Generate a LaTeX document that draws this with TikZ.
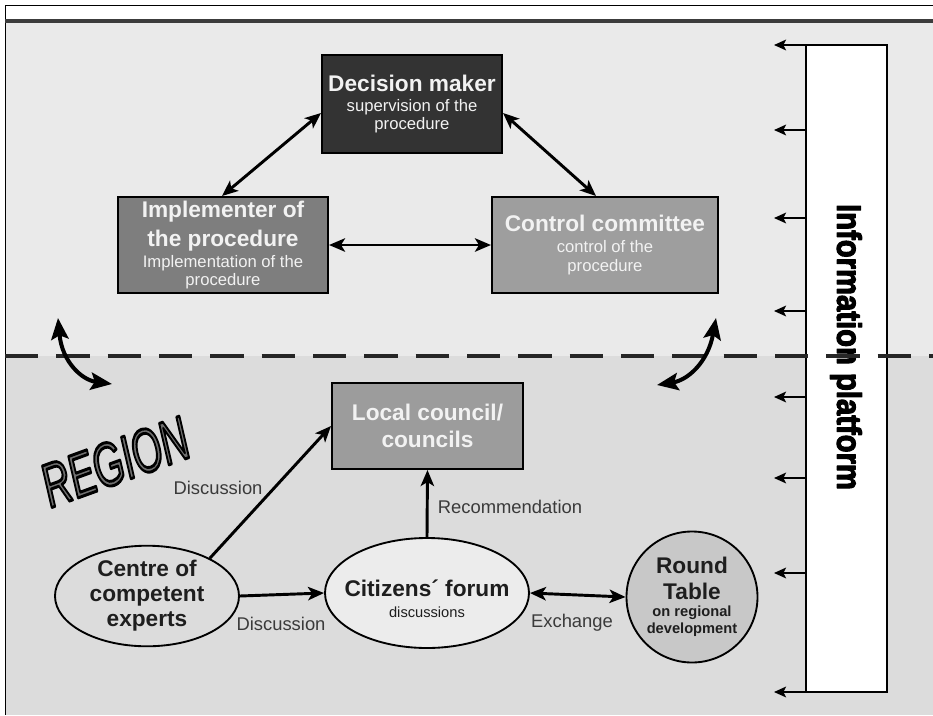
\documentclass[tikz,border=0pt]{standalone}
\usepackage{fontspec}
\setmainfont{Liberation Sans}
\usetikzlibrary{arrows.meta,shapes.geometric,calc}

\definecolor{upperbg}{HTML}{EAEAEA}
\definecolor{lowerbg}{HTML}{DCDCDC}
\definecolor{rulegray}{HTML}{3C3C3C}
\definecolor{dmfill}{HTML}{333333}
\definecolor{implfill}{HTML}{7E7E7E}
\definecolor{ctlfill}{HTML}{9E9E9E}
\definecolor{lcfill}{HTML}{9C9C9C}
\definecolor{expfill}{HTML}{DCDCDC}
\definecolor{citfill}{HTML}{ECECEC}
\definecolor{rtfill}{HTML}{C8C8C8}
\definecolor{ink}{HTML}{1E1E1E}
\definecolor{labelink}{HTML}{3A3A3A}
\definecolor{paleink}{HTML}{F2F2F2}
\definecolor{regionfill}{HTML}{707070}

% font sizes used in the chart
\newcommand{\hdfont}{\fontsize{17}{20}\selectfont\bfseries}
\newcommand{\sbfont}{\fontsize{12.5}{14}\selectfont}
\newcommand{\tinybold}{\fontsize{11}{12.75}\selectfont\bfseries}
\newcommand{\lblfont}{\fontsize{13.8}{16}\selectfont}

% outlined lettering: fill with the current colour, stroke in black
\makeatletter
\newcommand{\strokedtext}[2]{\pgfsys@invoke{0 0 0 RG #1 w 1 j 2 Tr}#2\pgfsys@invoke{0 Tr}}
\makeatother

\tikzset{
  bigtip/.tip={Stealth[length=12pt,width=10pt,inset=3pt]},
  smalltip/.tip={Stealth[length=9pt,width=8pt,inset=2pt]},
  swingtip/.tip={Stealth[length=16pt,width=13pt,inset=3pt]},
  box/.style={rectangle, draw=black, line width=1.5pt, align=center,
    inner sep=0pt, text=paleink},
  oval/.style={ellipse, draw=black, line width=1.4pt, align=center,
    inner sep=0pt, text=ink},
  flow/.style={line width=2.2pt, -bigtip},
  both/.style={line width=2.2pt, bigtip-bigtip},
  infoarrow/.style={line width=1.5pt, -smalltip},
  swing/.style={line width=3pt, swingtip-swingtip},
  edgelabel/.style={text=labelink, font=\lblfont, inner sep=0pt},
}

\begin{document}
\begin{tikzpicture}[x=0.75pt,y=-0.75pt]
\useasboundingbox (0,0) rectangle (933,715);

% page background and the two zones
\fill[white] (0,0) rectangle (933,715);
\fill[upperbg] (5,22) rectangle (933,356);
\fill[lowerbg] (5,356) rectangle (933,715);
\draw[black, line width=0.75pt] (933,5) -- (5,5) -- (5,715);
\draw[rulegray, line width=2.4pt] (5,21) -- (933,21);

% information platform column
\node[rectangle, draw=black, line width=1.3pt, fill=white,
  minimum width=60.75pt, minimum height=485.25pt, inner sep=0pt]
  (info) at (846.5,368.5) {};
\node[rotate=-90, inner sep=0pt, text=black] (infotext) at (846,347)
  {\scalebox{0.86}[1]{\fontsize{25.5}{26}\selectfont\bfseries
   \strokedtext{0.9}{Information platform}}};

\foreach \yy [count=\k] in {45,130,218,311,397,478,573,692} {
  \coordinate (feed\k) at (774,\yy);
  \draw[infoarrow] (info.west |- feed\k) -- (feed\k);
}

% boundary between the procedure level and the region
\draw[black!85, line width=2.6pt, dash pattern=on 25pt off 13.5pt]
  (5,356) -- (933,356);

% procedure level
\node[box, fill=dmfill, font=\sbfont, minimum width=135pt, minimum height=73.5pt]
  (dm) at (412,104)
  {{\hdfont Decision maker}\\[1pt] supervision of the\\ procedure};
\node[box, fill=implfill, font=\sbfont, minimum width=157.5pt, minimum height=72pt]
  (impl) at (223,245)
  {{\hdfont Implementer of}\\[4.75pt] {\hdfont the procedure}\\[1.75pt]
   Implementation of the\\ procedure};
\node[box, fill=ctlfill, font=\sbfont, minimum width=169.5pt, minimum height=72pt]
  (ctl) at (605,245)
  {{\hdfont Control committee}\\[1.75pt] control of the\\ procedure};

\draw[both] ($(dm.west)+(0,9)$) -- ($(impl.north)+(-1,0)$);
\draw[both] ($(dm.east)+(0,9)$) -- ($(ctl.north)+(-9,0)$);
\draw[both] (impl.east) -- (ctl.west);

% links across the boundary
\coordinate (swLtop) at (58,318);
\coordinate (swLbot) at (112,384);
\draw[swing] (swLtop) .. controls (62,362) and (82,380) .. (swLbot);
\coordinate (swRtop) at (716,318);
\coordinate (swRbot) at (657,385);
\draw[swing] (swRtop) .. controls (708,362) and (688,380) .. (swRbot);

% region level
\node[rotate=20, inner sep=0pt, text=regionfill] (region) at (115,462)
  {\scalebox{0.63}[1]{\fontsize{46}{46}\selectfont\itshape
   \strokedtext{2.2}{REGION}}};

\node[box, fill=lcfill, font=\hdfont, minimum width=143.25pt, minimum height=64.5pt]
  (lc) at (427.5,426)
  {Local council/\\ councils};

\node[oval, fill=expfill, font=\fontsize{17}{18.75}\selectfont\bfseries,
  minimum width=138pt, minimum height=72pt]
  (exp) at (147,596)
  {Centre of\\ competent\\ experts};

\node[oval, fill=citfill, minimum width=153pt, minimum height=82.5pt]
  (cit) at (427,593) {};
\node[inner sep=0pt, align=center, text=ink, font=\fontsize{11}{15.75}\selectfont]
  (cittext) at (427,599)
  {{\hdfont Citizens\textasciiacute\ forum}\\ discussions};

\node[circle, draw=black, line width=1.4pt, fill=rtfill, align=center,
  inner sep=0pt, text=ink, font=\tinybold, minimum size=98.25pt]
  (rt) at (692,597)
  {{\hdfont Round}\\[6.75pt] {\hdfont Table}\\ on regional\\ development};

\draw[flow] (exp.31) -- (lc.west);
\draw[flow] (exp.east) -- (cit.west);
\draw[flow] (cit.north) -- (lc.south);
\draw[both] (cit.east) -- (rt.west);

\node[edgelabel] (lblA) at (218,488) {Discussion};
\node[edgelabel] (lblB) at (281,624) {Discussion};
\node[edgelabel] (lblC) at (510,507) {Recommendation};
\node[edgelabel] (lblD) at (572,623) {Exchange};
\end{tikzpicture}
\end{document}
